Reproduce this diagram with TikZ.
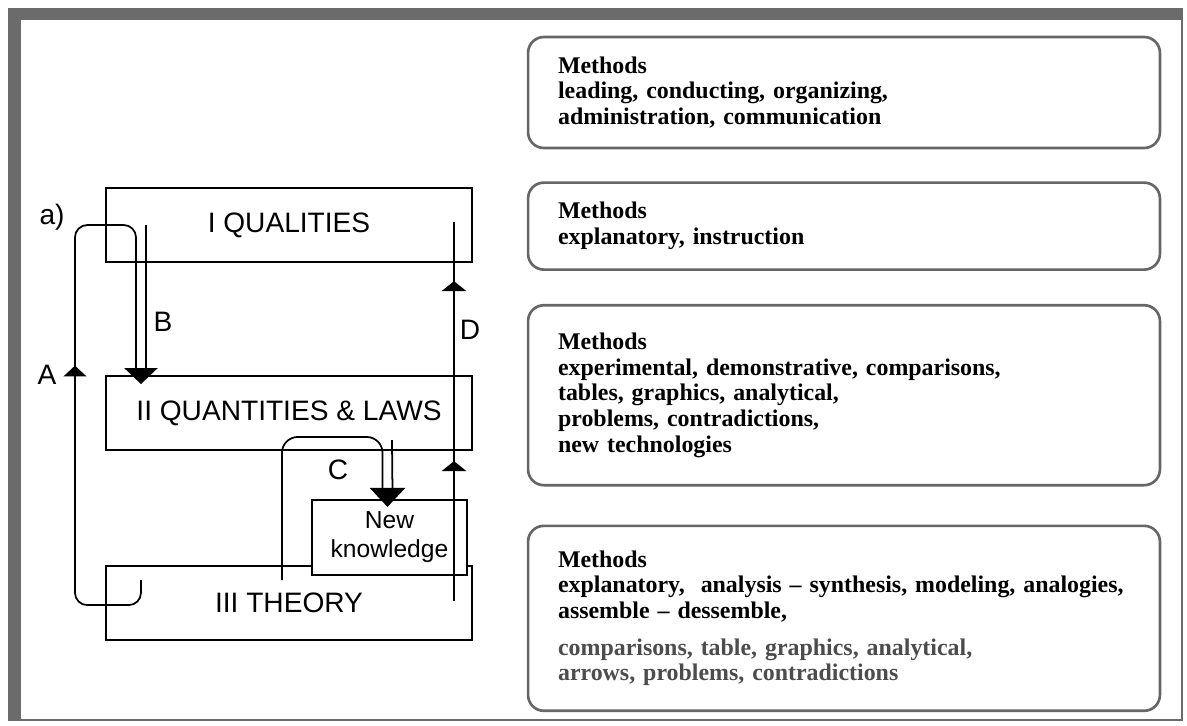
\documentclass[tikz,border=0pt]{standalone}
\usepackage{fontspec}
\setmainfont{Liberation Serif}
\setsansfont{Liberation Sans}
\usetikzlibrary{arrows.meta, positioning, calc, decorations.markings}

\tikzset{
  level/.style={draw, line width=1.2pt, minimum width=7.32cm, minimum height=1.48cm, inner sep=0pt, font=\sffamily\fontsize{16}{19}\selectfont},
  methods/.style={draw=black!60, line width=1.5pt, rounded corners=9pt, text width=11.44cm, inner xsep=0.6cm, inner ysep=0pt, align=left, font=\bfseries\fontsize{13.6}{14.7}\selectfont},
  flow/.style={line width=1pt, rounded corners=7pt},
  lbl/.style={font=\sffamily\fontsize{16}{19}\selectfont},
}

\begin{document}
\begin{tikzpicture}[x=0.02cm, y=-0.02cm]
\useasboundingbox (0,0) rectangle (1187,725);
% frame
\fill[black!58] (8,8) rectangle (1183,721);
\fill[white] (21,20) rectangle (1181,719);

% the three levels
\node (qual) [level] at (289,225) {I QUALITIES};
\node (quant) [level, below=2.24cm of qual] {II QUANTITIES \& LAWS};
\node (theory) [level, below=2.28cm of quant] {III THEORY};
\node (newk) [draw, fill=white, line width=1.2pt, minimum width=3.1cm, minimum height=1.5cm, inner sep=0pt, align=center, font=\sffamily\fontsize{14}{16.5}\selectfont] at (389.5,537.5) {New\\knowledge};

\coordinate (a0) at ($(theory.north west)+(36,15)$);
\coordinate (bt) at ($(quant.north west)+(36,9)$);
\coordinate (b0) at ($(qual.west)+(41,0)$);
\coordinate (c0) at ($(theory.north west)+(177,15)$);
\coordinate (c1) at ($(quant.south west)+(287,-11)$);
\coordinate (ct) at ($(newk.north)+(-2,8)$);
\coordinate (d0) at ($(theory.north east)+(-19,36)$);
\coordinate (d1) at ($(qual.north east)+(-19,35)$);

% A and B
\draw[flow, postaction={decorate}, decoration={markings, mark=at position 6.4cm with {\arrow{Triangle[width=13pt,length=6.2pt]}}}]
  (a0) -- ++(0,25) -| ($(qual.west)+(-30,0)$) -| ($(bt)+(-5,-12)$);
\draw[line width=1pt, -{Triangle[width=18.7pt,length=9pt]}] (b0) -- ($(bt)+(5,-13)$) -| (bt);

% C
\draw[flow, rounded corners=9pt] (c0) |- ($(ct)+(-5,-70)$) -- ($(ct)+(-5,-17)$);
\draw[line width=1pt, -{Triangle[width=20pt,length=10.8pt]}] (c1) -- ($(ct)+(5,-15)$) -| (ct);

% D
\draw[line width=1pt, postaction={decorate}, decoration={markings,
  mark=at position 2.8cm with {\arrow{Triangle[width=14pt,length=5.7pt]}},
  mark=at position 6.4cm with {\arrow{Triangle[width=14pt,length=5.7pt]}}}]
  (d0) -- (d1);

\node (lbla) [lbl] at (52,217) {a)};
\node (la) [lbl] at (47,375) {A};
\node (lb) [lbl] at (163,322) {B};
\node (lc) [lbl] at (338,470) {C};
\node (ld) [lbl] at (470,330) {D};

% methods
\node (m1) [methods, minimum height=2.22cm] at (844,92.5) {Methods\\leading, conducting, organizing,\\administration, communication};
\node (m2) [methods, minimum height=1.74cm, below=0.64cm of m1] {Methods\\explanatory, instruction};
\node (m3) [methods, minimum height=3.6cm, below=0.66cm of m2] {Methods\\experimental, demonstrative, comparisons,\\tables, graphics, analytical,\\problems, contradictions,\\new technologies};
\node (m4) [methods, minimum height=3.7cm, below=0.76cm of m3] {Methods\\explanatory,\ \ analysis -- synthesis, modeling, analogies,\\assemble -- dessemble,\\[6pt]\textcolor{black!70}{comparisons, table, graphics, analytical,}\\\textcolor{black!70}{arrows, problems, contradictions}};
\end{tikzpicture}
\end{document}
